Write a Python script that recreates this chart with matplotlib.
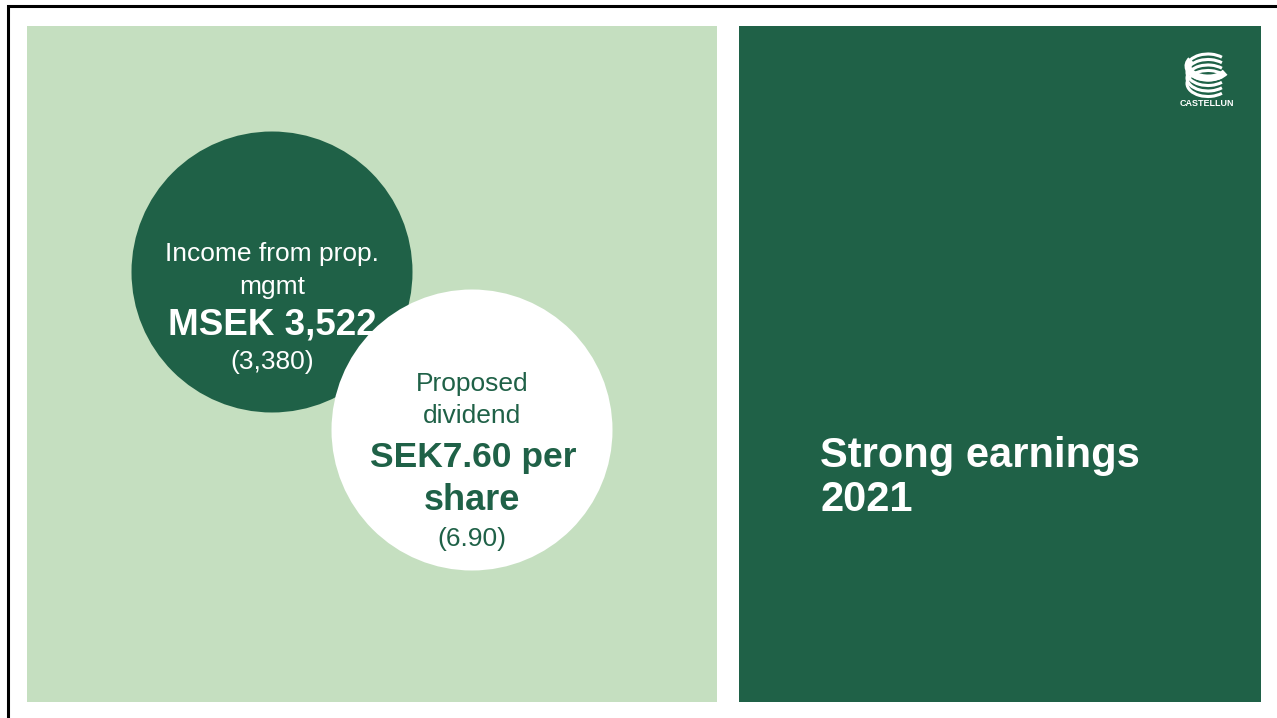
import matplotlib
matplotlib.use("Agg")
import matplotlib.pyplot as plt
from matplotlib.patches import Rectangle, Circle, Arc

plt.rcParams['font.family'] = ['Liberation Sans', 'DejaVu Sans']

# Content
income_label = ["Income from prop.", "mgmt"]
income_value = "MSEK 3,522"
income_prev = "(3,380)"
dividend_label = ["Proposed", "dividend"]
dividend_value = ["SEK7.60 per", "share"]
dividend_prev = "(6.90)"
headline = ["Strong earnings", "2021"]
logo_text = "CASTELLUN"

LIGHT = "#C5DFC0"
DARK = "#1F6147"

W, H = 1277, 718
fig = plt.figure(figsize=(W / 100, H / 100), dpi=100)
ax = fig.add_axes([0, 0, 1, 1])
ax.set_xlim(0, W)
ax.set_ylim(H, 0)
ax.axis("off")

# slide border
ax.plot([8, 8, W], [H, 6, 6], color="black", lw=2.2, solid_capstyle="butt", solid_joinstyle="miter")

# panels
ax.add_patch(Rectangle((27, 26), 690, 676, color=LIGHT, lw=0))
ax.add_patch(Rectangle((739, 26), 522, 676, color=DARK, lw=0))

# circles
ax.add_patch(Circle((272, 272), 140.5, color=DARK, lw=0, zorder=2))
ax.add_patch(Circle((472, 430), 140.5, color="white", lw=0, zorder=3))

# circle 1 text
ax.text(272, 254, income_label[0], color="white", fontsize=19, ha="center", va="center", zorder=5)
ax.text(272, 287, income_label[1], color="white", fontsize=19, ha="center", va="center", zorder=5)
ax.text(272, 325, income_value, color="white", fontsize=26.5, fontweight="bold", ha="center", va="center", zorder=5)
ax.text(272, 362, income_prev, color="white", fontsize=19, ha="center", va="center", zorder=5)

# circle 2 text
ax.text(472, 384, dividend_label[0], color=DARK, fontsize=19, ha="center", va="center", zorder=5)
ax.text(472, 416, dividend_label[1], color=DARK, fontsize=19, ha="center", va="center", zorder=5)
ax.text(473, 457, dividend_value[0], color=DARK, fontsize=25.5, fontweight="bold", ha="center", va="center", zorder=5)
ax.text(472, 500, dividend_value[1], color=DARK, fontsize=26, fontweight="bold", ha="center", va="center", zorder=5)
ax.text(472, 539, dividend_prev, color=DARK, fontsize=19, ha="center", va="center", zorder=5)

# headline
ax.text(820, 456, headline[0], color="white", fontsize=30, fontweight="bold", ha="left", va="center")
ax.text(820, 500, headline[1], color="white", fontsize=30, fontweight="bold", ha="left", va="center")

# logo: stacked arcs forming a C
ax.add_patch(Arc((1208, 66), 40, 24, theta1=20, theta2=200, color="white", lw=5, zorder=6))
for i in range(4):
    ax.add_patch(Arc((1208, 67 + i * 5.5), 42, 26, theta1=35, theta2=325,
                     color="white", lw=2.2, zorder=6))
ax.text(1207, 104, logo_text, color="white", fontsize=6.5, fontweight="bold", ha="center", va="center", zorder=6)

fig.savefig("out.png", dpi=100)
